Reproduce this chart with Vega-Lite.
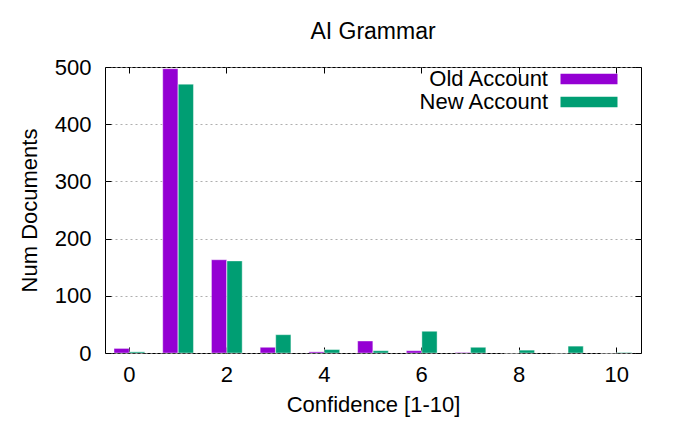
{
  "$schema": "https://vega.github.io/schema/vega-lite/v6.json",
  "width": 536,
  "height": 286,
  "autosize": {"type": "none"},
  "padding": {"left": 105, "top": 67, "right": 39, "bottom": 72},
  "background": "white",
  "config": {
    "font": "Liberation Sans",
    "view": {"stroke": "#000000", "strokeWidth": 1},
    "axis": {
      "labelFont": "Liberation Sans",
      "titleFont": "Liberation Sans",
      "labelFontSize": 22,
      "titleFontSize": 22,
      "titleFontWeight": "normal",
      "labelColor": "#000000",
      "titleColor": "#000000",
      "domain": false,
      "tickColor": "#000000",
      "tickSize": -6,
      "tickWidth": 1
    },
    "legend": {
      "labelFont": "Liberation Sans",
      "labelFontSize": 22,
      "labelColor": "#000000"
    }
  },
  "title": {
    "text": "AI Grammar",
    "font": "Liberation Sans",
    "fontSize": 23,
    "fontWeight": "normal",
    "color": "#000000",
    "anchor": "middle",
    "offset": 12
  },
  "data": {
    "values": [
      {"confidence": 0, "account": "Old Account", "count": 8},
      {"confidence": 0, "account": "New Account", "count": 2},
      {"confidence": 1, "account": "Old Account", "count": 497},
      {"confidence": 1, "account": "New Account", "count": 470},
      {"confidence": 2, "account": "Old Account", "count": 163},
      {"confidence": 2, "account": "New Account", "count": 161},
      {"confidence": 3, "account": "Old Account", "count": 10},
      {"confidence": 3, "account": "New Account", "count": 32},
      {"confidence": 4, "account": "Old Account", "count": 2},
      {"confidence": 4, "account": "New Account", "count": 6},
      {"confidence": 5, "account": "Old Account", "count": 21},
      {"confidence": 5, "account": "New Account", "count": 4},
      {"confidence": 6, "account": "Old Account", "count": 4},
      {"confidence": 6, "account": "New Account", "count": 38},
      {"confidence": 7, "account": "Old Account", "count": 1},
      {"confidence": 7, "account": "New Account", "count": 10},
      {"confidence": 8, "account": "Old Account", "count": 0},
      {"confidence": 8, "account": "New Account", "count": 5},
      {"confidence": 9, "account": "Old Account", "count": 0},
      {"confidence": 9, "account": "New Account", "count": 12},
      {"confidence": 10, "account": "Old Account", "count": 0},
      {"confidence": 10, "account": "New Account", "count": 1}
    ]
  },
  "layer": [
    {
      "mark": {"type": "bar", "stroke": "#ffffff", "strokeWidth": 0.6, "strokeOpacity": 0.7},
      "encoding": {
        "x": {
          "field": "confidence",
          "type": "ordinal",
          "scale": {"paddingInner": 0, "paddingOuter": 0},
          "axis": {
            "orient": "bottom",
            "values": [0, 2, 4, 6, 8, 10],
            "labelAngle": 0,
            "labelPadding": 17,
            "title": "Confidence [1-10]",
            "titlePadding": 9,
            "grid": false
          }
        },
        "xOffset": {
          "field": "account",
          "type": "nominal",
          "sort": ["Old Account", "New Account"],
          "scale": {"paddingInner": 0.02, "paddingOuter": 0.58}
        },
        "y": {
          "field": "count",
          "type": "quantitative",
          "scale": {"domain": [0, 500], "nice": false},
          "axis": {
            "orient": "left",
            "values": [0, 100, 200, 300, 400, 500],
            "labelPadding": 20,
            "title": "Num Documents",
            "titlePadding": 13,
            "grid": true,
            "gridColor": "#999999",
            "gridDash": [2, 3],
            "gridWidth": 0.8
          }
        },
        "color": {
          "field": "account",
          "type": "nominal",
          "sort": ["Old Account", "New Account"],
          "scale": {"domain": ["Old Account", "New Account"], "range": ["#9400D3", "#009E73"]},
          "legend": {
            "title": null,
            "orient": "none",
            "legendX": 473,
            "legendY": 1,
            "padding": 0,
            "symbolType": "M-5.18,-0.96H5.18V0.96H-5.18Z",
            "symbolSize": 121,
            "symbolStrokeWidth": 0,
            "symbolOpacity": 1,
            "labelAlign": "right",
            "labelOffset": -52,
            "rowPadding": 1
          }
        }
      }
    },
    {
      "mark": {"type": "bar", "opacity": 0},
      "encoding": {
        "x": {
          "field": "confidence",
          "type": "ordinal",
          "axis": {
            "orient": "top",
            "values": [0, 2, 4, 6, 8, 10],
            "labels": false,
            "title": null,
            "grid": false
          }
        },
        "xOffset": {"field": "account", "type": "nominal", "sort": ["Old Account", "New Account"]},
        "y": {
          "field": "count",
          "type": "quantitative",
          "axis": {
            "orient": "right",
            "values": [0, 100, 200, 300, 400, 500],
            "labels": false,
            "title": null,
            "grid": false
          }
        }
      }
    }
  ],
  "resolve": {"axis": {"x": "independent", "y": "independent"}}
}
